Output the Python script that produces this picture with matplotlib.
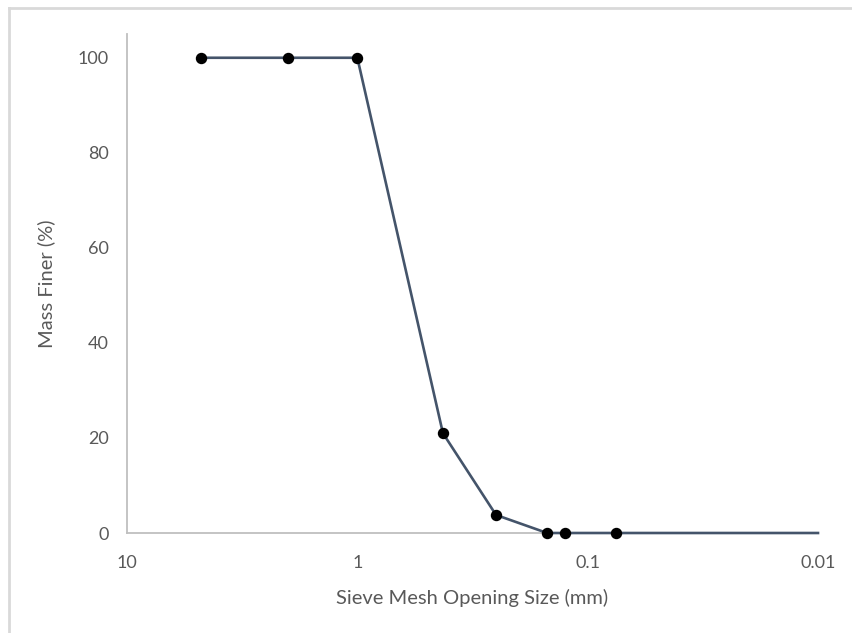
import matplotlib
matplotlib.use("Agg")
import matplotlib.pyplot as plt
from matplotlib.ticker import FixedLocator, FixedFormatter, NullLocator
from matplotlib.lines import Line2D

sieve_size_mm = [4.75, 2.0, 1.0, 0.425, 0.25, 0.15, 0.125, 0.075, 0.01]
mass_finer_pct = [100, 100, 100, 21, 3.8, 0, 0, 0, 0]
x_ticks = [10, 1, 0.1, 0.01]
x_tick_labels = ["10", "1", "0.1", "0.01"]
y_ticks = [0, 20, 40, 60, 80, 100]

plt.rcParams['font.family'] = ['Lato', 'DejaVu Sans']
txt = '#595959'
grid_gray = '#bfbfbf'

fig = plt.figure(figsize=(8.52, 6.33), dpi=100)
ax = fig.add_axes([127/852, 100/633, (818-127)/852, (533-34)/633])

ax.plot(sieve_size_mm, mass_finer_pct, color='#44546A', lw=1.9,
        marker='o', markersize=7.2, markerfacecolor='black', markeredgecolor='black',
        markevery=list(range(len(sieve_size_mm) - 1)), zorder=3, clip_on=False)

ax.set_xscale('log')
ax.set_xlim(10, 0.01)
ax.set_ylim(0, 105)
ax.xaxis.set_major_locator(FixedLocator(x_ticks))
ax.xaxis.set_major_formatter(FixedFormatter(x_tick_labels))
ax.xaxis.set_minor_locator(NullLocator())
ax.set_yticks(y_ticks)

for s in ['top', 'right']:
    ax.spines[s].set_visible(False)
for s in ['left', 'bottom']:
    ax.spines[s].set_color(grid_gray)
    ax.spines[s].set_linewidth(1.3)
ax.tick_params(axis='both', length=0, labelsize=13, colors=txt)
ax.tick_params(axis='x', pad=16)
ax.tick_params(axis='y', pad=13)

ax.set_xlabel('Sieve Mesh Opening Size (mm)', fontsize=14.5, color=txt, labelpad=13)
ax.set_ylabel('Mass Finer (%)', fontsize=14.5, color=txt, labelpad=16)

# outer frame lines (top and left)
fig.add_artist(Line2D([9/852, 1], [1 - 8/633, 1 - 8/633], transform=fig.transFigure,
                      color='#d9d9d9', lw=2))
fig.add_artist(Line2D([9/852, 9/852], [0, 1 - 8/633], transform=fig.transFigure,
                      color='#d9d9d9', lw=2))

fig.savefig('out.png', dpi=100)
